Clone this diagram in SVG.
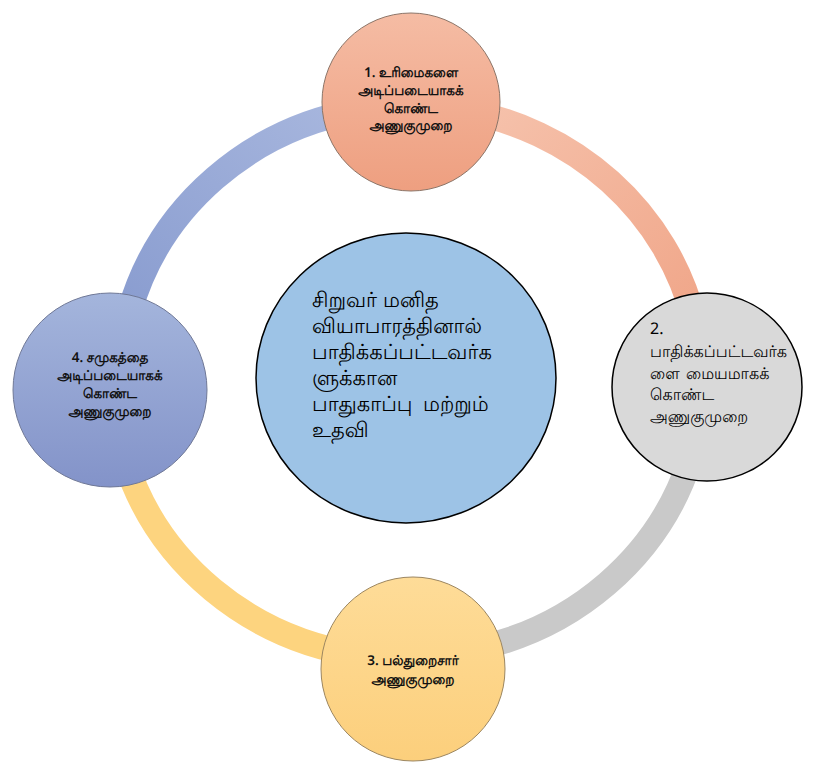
<svg xmlns="http://www.w3.org/2000/svg" width="823" height="766" viewBox="0 0 823 766">
<defs>
<linearGradient id="gTop" x1="0" y1="0" x2="0" y2="1"><stop offset="0" stop-color="#f5bca4"/><stop offset="1" stop-color="#ee9f80"/></linearGradient>
<linearGradient id="gBot" x1="0" y1="0" x2="0" y2="1"><stop offset="0" stop-color="#fedc98"/><stop offset="1" stop-color="#fccf7c"/></linearGradient>
<linearGradient id="gLeft" x1="0" y1="0" x2="0" y2="1"><stop offset="0" stop-color="#a4b5dc"/><stop offset="1" stop-color="#8393c9"/></linearGradient>
<linearGradient id="gArcTR" x1="0" y1="0" x2="1" y2="1"><stop offset="0" stop-color="#f6c3ad"/><stop offset="1" stop-color="#f0a689"/></linearGradient>
<linearGradient id="gArcTL" x1="1" y1="0" x2="0" y2="1"><stop offset="0" stop-color="#a8b7de"/><stop offset="1" stop-color="#8a9dd0"/></linearGradient>
</defs>
<style>
.arc{fill:none;stroke-width:25}
.t{font-family:"Noto Sans","DejaVu Sans",sans-serif;fill:#000;text-rendering:geometricPrecision}
.n{font-size:13.5px;text-anchor:middle;font-weight:600;fill:#111}
.r{font-size:16px}
.c{font-size:21px}
</style>
<g id="connectors">
<path class="arc" stroke="url(#gArcTR)" d="M 460 110 A 292 278 0 0 1 694 320"/>
<path class="arc" stroke="#c9c9c9" d="M 690 460 A 292 278 0 0 1 470 650"/>
<path class="arc" stroke="#fdd47f" d="M 360 655 A 292 278 0 0 1 125 460"/>
<path class="arc" stroke="url(#gArcTL)" d="M 130 310 A 292 278 0 0 1 360 110"/>
</g>
<g id="center">
<ellipse cx="406" cy="378" rx="150" ry="145" fill="#9dc3e6" stroke="#000" stroke-width="1.5"/>
<text class="t c" x="312" y="307">சிறுவர்<tspan x="383">மனித</tspan></text>
<text class="t c" x="312" y="333">வியாபாரத்தினால்</text>
<text class="t c" x="312" y="359">பாதிக்கப்பட்டவர்க</text>
<text class="t c" x="312" y="385">ளுக்கான</text>
<text class="t c" x="312" y="411">பாதுகாப்பு<tspan x="423">மற்றும்</tspan></text>
<text class="t c" x="312" y="437">உதவி</text>
</g>
<g id="node1">
<circle cx="411" cy="102" r="89" fill="url(#gTop)" stroke="#8c7568" stroke-width="1"/>
<text class="t n" x="411" y="77">1. உரிமைகளை</text>
<text class="t n" x="411" y="95">அடிப்படையாகக்</text>
<text class="t n" x="411" y="112.5">கொண்ட</text>
<text class="t n" x="411" y="130">அணுகுமுறை</text>
</g>
<g id="node2">
<ellipse cx="707" cy="387" rx="95" ry="94" fill="#d9d9d9" stroke="#000" stroke-width="1.5"/>
<text class="t r" x="650" y="334">2.</text>
<text class="t r" x="650" y="357">பாதிக்கப்பட்டவர்க</text>
<text class="t r" x="650" y="379">ளை<tspan x="686">மையமாகக்</tspan></text>
<text class="t r" x="650" y="400">கொண்ட</text>
<text class="t r" x="650" y="422">அணுகுமுறை</text>
</g>
<g id="node3">
<circle cx="413" cy="669" r="92" fill="url(#gBot)" stroke="#9c8660" stroke-width="1"/>
<text class="t n" x="413" y="665">3. பல்துறைசார்</text>
<text class="t n" x="413" y="684">அணுகுமுறை</text>
</g>
<g id="node4">
<circle cx="110" cy="390" r="97" fill="url(#gLeft)" stroke="#6f7896" stroke-width="1"/>
<text class="t n" x="110" y="362">4. சமுகத்தை</text>
<text class="t n" x="110" y="380">அடிப்படையாகக்</text>
<text class="t n" x="110" y="398">கொண்ட</text>
<text class="t n" x="110" y="416">அணுகுமுறை</text>
</g>
</svg>
